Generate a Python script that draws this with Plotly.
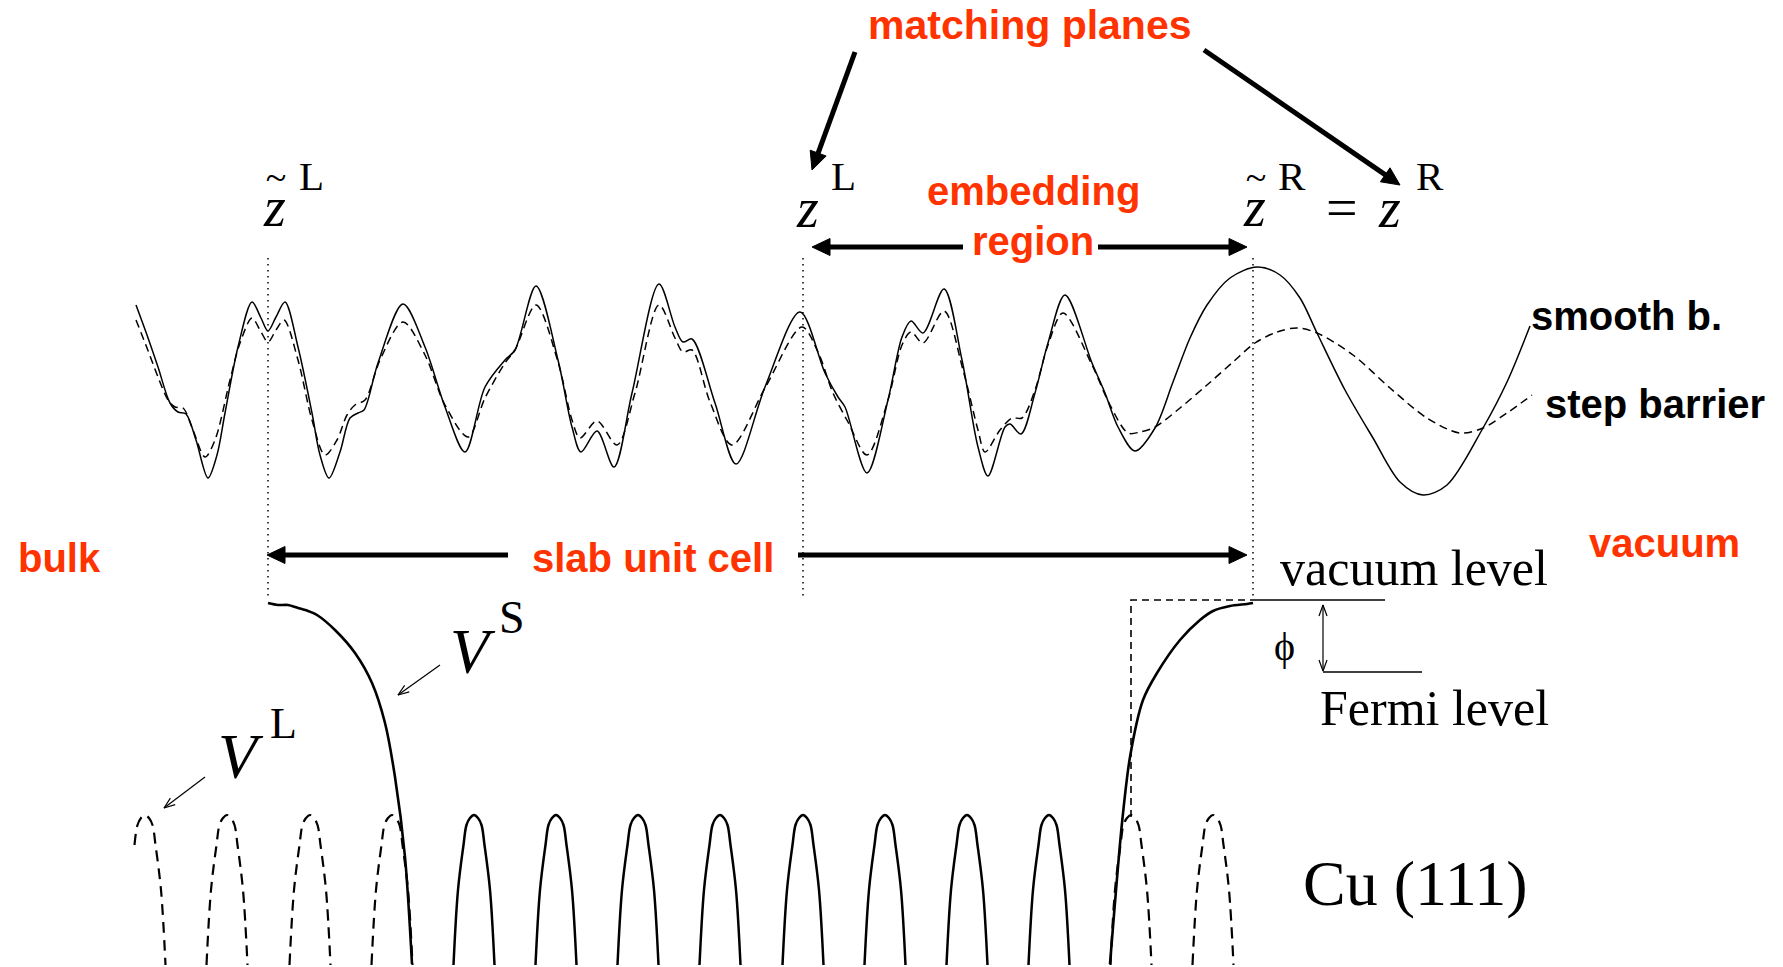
import plotly.graph_objects as go

W, H = 1783, 967
RED = "#FF3300"
SANS = "Liberation Sans, Arial, sans-serif"
SERIF = "Liberation Serif, Times New Roman, serif"

# ---------------- data (pixel coordinates) ----------------
# wave function with the smooth barrier (solid)
SMOOTH_X = [136, 147, 158, 170, 178, 186, 196, 208, 217, 225, 238, 252, 261, 268, 276, 285, 298, 312, 320, 329,
            340, 350, 358, 364, 378, 403, 425, 445, 465, 485, 505, 515, 536, 558, 572, 581, 597, 614, 632, 659,
            675, 683, 692, 715, 736, 765, 800, 825, 838, 845, 867, 888, 902, 911, 923, 944, 962, 978, 988, 1005,
            1010, 1021, 1035, 1048, 1065, 1092, 1105, 1118, 1135, 1155, 1173, 1190, 1207, 1230, 1257, 1280, 1300,
            1317, 1345, 1373, 1400, 1423, 1447, 1483, 1507, 1530]
SMOOTH_Y = [305, 335, 367, 403, 412, 414, 440, 478, 455, 413, 347, 302, 318, 331, 317, 302, 347, 413, 455, 478,
            452, 418, 413, 410, 363, 304, 347, 407, 452, 387, 360, 350, 286, 360, 427, 452, 431, 467, 393, 284,
            327, 342, 339, 403, 464, 387, 312, 373, 397, 407, 473, 400, 337, 321, 333, 289, 360, 447, 476, 427,
            424, 434, 393, 343, 295, 363, 393, 427, 451, 428, 382, 338, 305, 278, 267, 275, 298,
            333, 390, 438, 482, 495, 485, 428, 382, 326]

# wave function with the step barrier (dashed)
STEP_X = [136, 147, 158, 168, 175, 183, 193, 205, 215, 230, 240, 252, 260, 268, 276, 284, 298, 312, 325, 337,
          347, 355, 365, 380, 403, 425, 445, 468, 485, 505, 515, 536, 558, 572, 580, 597, 617, 635, 659, 675,
          683, 692, 710, 732, 765, 802, 818, 833, 848, 867, 888, 902, 911, 923, 944, 963, 978, 985, 1000, 1012,
          1022, 1035, 1048, 1063, 1092, 1110, 1128, 1140, 1155, 1180, 1207, 1233, 1255, 1277, 1297, 1317, 1353,
          1390, 1427, 1460, 1483, 1507, 1532]
STEP_Y = [320, 348, 377, 400, 407, 408, 430, 457, 440, 380, 343, 318, 330, 342, 330, 320, 360, 420, 455, 440,
          415, 405, 400, 360, 322, 355, 405, 437, 398, 363, 350, 305, 362, 420, 438, 421, 445, 393, 305, 338,
          352, 350, 402, 445, 388, 327, 352, 393, 422, 455, 400, 345, 332, 343, 311, 370, 430, 452, 430, 418,
          418, 390, 345, 313, 365, 405, 433, 432, 427, 408, 385, 362, 343, 332, 328, 333, 355,
          388, 418, 433, 428, 413, 395]

# surface potential V^S (solid, thick)
VS_LEFT_X = [268, 278, 288, 298, 308, 317, 335, 355, 372, 385, 395, 405, 412]
VS_LEFT_Y = [603, 605, 605, 608, 611, 615, 630, 653, 683, 723, 777, 857, 964]
VS_RIGHT_X = [1253, 1247, 1230, 1213, 1200, 1180, 1157, 1143, 1130, 1122, 1110]
VS_RIGHT_Y = [603, 604, 606, 611, 620, 640, 673, 700, 757, 823, 964]

# step barrier potential (dashed)
STEP_BAR_X = [1131, 1131, 1253]
STEP_BAR_Y = [817, 600, 600]

# atomic cores (bottom bumps)
BUMP_X = [145, 227, 310, 392, 474, 556, 638, 720, 803, 885, 967, 1049, 1131, 1213]
BUMP_DASHED = [1, 1, 1, 1, 0, 0, 0, 0, 0, 0, 0, 0, 1, 1]
BUMP_LEFT_DEPTH = [30, 150, 150, 150, 150, 150, 150, 150, 150, 150, 150, 150, 150, 150]
BUMP_TOP = 815
BUMP_DY = [0, 3, 10, 30, 75, 150]
BUMP_HW = [0, 4, 7.5, 10.5, 16, 20.5]

# matching planes (dotted verticals)
PLANE_X = [268, 803, 1253]
PLANE_Y = [258, 600]

# levels
VAC_LEVEL = ([1253, 1385], [600, 600])
FERMI_LEVEL = ([1323, 1422], [672, 672])

# arrows: (tail, tip)
THICK_ARROWS = [((855, 52), (812, 170)), ((1204, 50), (1400, 185)),
                ((963, 247), (812, 247)), ((1098, 247), (1247, 247)),
                ((508, 555), (267, 555)), ((798, 555), (1247, 555))]
THIN_ARROWS = [((440, 665), (398, 695)), ((205, 777), (164, 808)),
               ((1323, 640), (1323, 605)), ((1323, 640), (1323, 671))]

fig = go.Figure()


def line(x, y, width=1.5, dash=None, shape="linear", smoothing=1.0):
    ln = dict(color="black", width=width, shape=shape)
    if shape == "spline":
        ln["smoothing"] = smoothing
    if dash:
        ln["dash"] = dash
    fig.add_trace(go.Scatter(x=x, y=y, mode="lines", line=ln, hoverinfo="skip", showlegend=False))


def arrow(tail, tip, width, head_len, head_half, filled=True):
    dx, dy = tip[0] - tail[0], tip[1] - tail[1]
    L = (dx * dx + dy * dy) ** 0.5
    ux, uy = dx / L, dy / L
    px, py = -uy, ux
    bx, by = tip[0] - ux * head_len, tip[1] - uy * head_len
    if filled:
        line([tail[0], bx + ux * 2], [tail[1], by + uy * 2], width=width)
        fig.add_trace(go.Scatter(
            x=[tip[0], bx + px * head_half, bx - px * head_half, tip[0]],
            y=[tip[1], by + py * head_half, by - py * head_half, tip[1]],
            mode="lines", fill="toself", fillcolor="black",
            line=dict(color="black", width=1), hoverinfo="skip", showlegend=False))
    else:
        line([tail[0], tip[0]], [tail[1], tip[1]], width=width)
        line([bx + px * head_half, tip[0], bx - px * head_half],
             [by + py * head_half, tip[1], by - py * head_half], width=width)


# wave functions
line(STEP_X, STEP_Y, width=1.5, dash="8px,5px", shape="spline", smoothing=0.9)
line(SMOOTH_X, SMOOTH_Y, width=1.5, shape="spline", smoothing=0.9)

# matching planes
for px_ in PLANE_X:
    line([px_, px_], PLANE_Y, width=1.5, dash="1.5px,4.5px")

# bumps
for cx, dashed, depth in zip(BUMP_X, BUMP_DASHED, BUMP_LEFT_DEPTH):
    left = [(cx - hw, BUMP_TOP + d) for d, hw in zip(BUMP_DY, BUMP_HW) if d <= depth][::-1]
    right = [(cx + hw, BUMP_TOP + d) for d, hw in zip(BUMP_DY, BUMP_HW)][1:]
    pts = left + right
    line([p[0] for p in pts], [p[1] for p in pts], width=2.5 if not dashed else 2.2,
         dash="11px,7px" if dashed else None, shape="spline", smoothing=1.0)

# potentials
line(STEP_BAR_X, STEP_BAR_Y, width=1.6, dash="7px,5px")
line(VS_LEFT_X, VS_LEFT_Y, width=2.6, shape="spline", smoothing=0.8)
line(VS_RIGHT_X, VS_RIGHT_Y, width=2.6, shape="spline", smoothing=0.8)
line(*VAC_LEVEL, width=1.6)
line(*FERMI_LEVEL, width=1.6)

# arrows
for t, h in THICK_ARROWS:
    arrow(t, h, width=5, head_len=18, head_half=8.5, filled=True)
for t, h in THIN_ARROWS:
    arrow(t, h, width=1.2, head_len=11, head_half=4, filled=False)

annotations = []


def txt(x, y, s, size, family, color="black", xanchor="center"):
    annotations.append(dict(x=x, y=y, xref="x", yref="y", text=s, showarrow=False,
                            xanchor=xanchor, yanchor="middle", align="center",
                            font=dict(size=size, family=family, color=color)))


# red / black sans labels
txt(1030, 25, "<b>matching planes</b>", 41, SANS, RED)
txt(1033, 191, "<b>embedding</b>", 40, SANS, RED)
txt(1033, 241, "<b>region</b>", 40, SANS, RED)
txt(653, 558, "<b>slab unit cell</b>", 40, SANS, RED)
txt(59, 558, "<b>bulk</b>", 40, SANS, RED)
txt(1664, 543, "<b>vacuum</b>", 40, SANS, RED)
txt(1626, 316, "<b>smooth b.</b>", 40, SANS)
txt(1655, 404, "<b>step barrier</b>", 40, SANS)

# serif labels
txt(1414, 568, "vacuum level", 50, SERIF)
txt(1434, 708, "Fermi level", 50, SERIF)
txt(1415, 883, "Cu (111)", 64, SERIF)
txt(1284, 646, "ϕ", 40, SERIF)

# z labels: z with a raised tilde drawn back over it (negative letter spacing + baseline shift)
Z_TILDE = ("<span style='font-style:italic;letter-spacing:-20px'>z</span>"
           "<span style='font-size:38px;baseline-shift:36px'>~</span>")
for zx, sup, sx, tilde in [(273, "L", 311, True), (807, "L", 843, False),
                           (1253, "R", 1292, True), (1389, "R", 1430, False)]:
    if tilde:
        txt(zx + 1, 197, Z_TILDE, 56, SERIF)
    else:
        txt(zx, 208, "<i>z</i>", 56, SERIF)
    txt(sx, 176, sup, 41, SERIF)
txt(1342, 208, "=", 56, SERIF)

# V labels
txt(473, 651, "<i>V</i>", 64, SERIF)
txt(512, 617, "S", 46, SERIF)
txt(241, 756, "<i>V</i>", 64, SERIF)
txt(283, 723, "L", 44, SERIF)

fig.update_layout(
    width=W, height=H, margin=dict(l=0, r=0, t=0, b=0),
    paper_bgcolor="white", plot_bgcolor="white",
    xaxis=dict(range=[0, W], visible=False, fixedrange=True),
    yaxis=dict(range=[H, 0], visible=False, fixedrange=True),
    annotations=annotations, showlegend=False,
)
fig.write_html("out.html")
